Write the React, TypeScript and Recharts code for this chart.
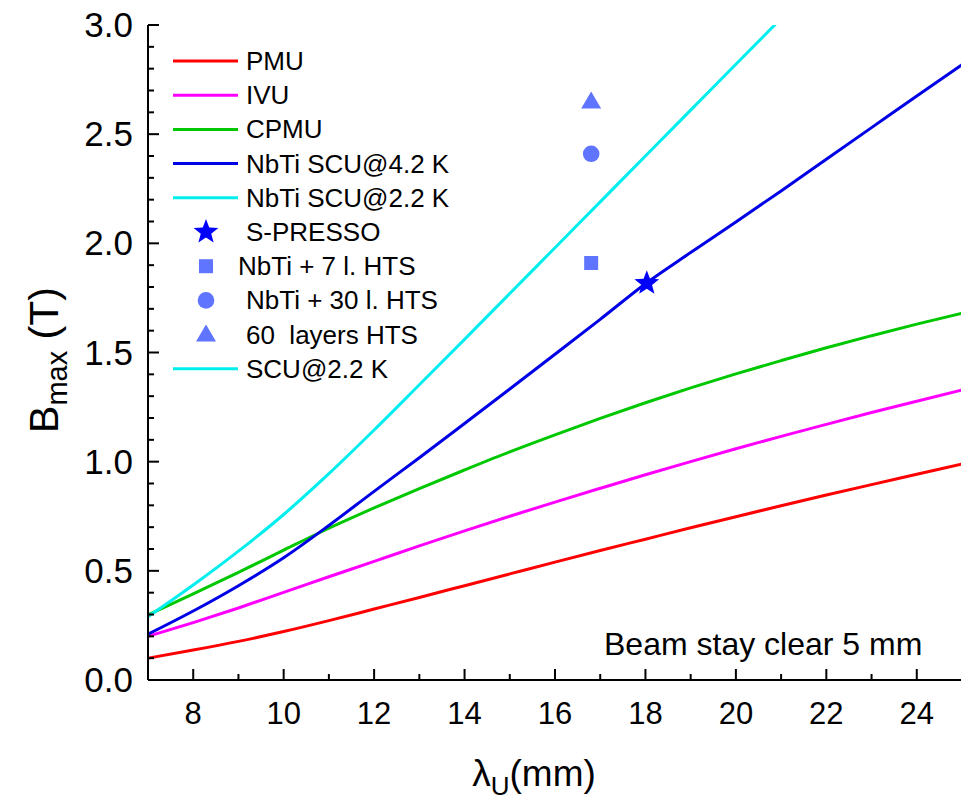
import React from 'react';
import { ComposedChart, Line, Scatter, XAxis, YAxis, Legend, Label } from 'recharts';

const FONT = '"Liberation Sans", Arial, Helvetica, sans-serif';

// undulator period (mm)
const lambda = [7, 8, 9, 10, 11, 12, 13, 14, 15, 16, 17, 18, 19, 20, 21, 22, 23, 24, 25];

// peak field (T) for each technology
const pmu = [0.100, 0.137, 0.177, 0.222, 0.272, 0.325, 0.378, 0.432, 0.486, 0.540, 0.593, 0.645, 0.697, 0.748, 0.798, 0.847, 0.895, 0.942, 0.989];
const ivu = [0.200, 0.263, 0.330, 0.401, 0.473, 0.543, 0.614, 0.683, 0.750, 0.815, 0.878, 0.940, 1.000, 1.059, 1.116, 1.171, 1.225, 1.277, 1.328];
const cpmu = [0.298, 0.394, 0.493, 0.595, 0.695, 0.788, 0.877, 0.962, 1.045, 1.123, 1.198, 1.270, 1.338, 1.402, 1.463, 1.522, 1.577, 1.630, 1.680];
const scu42 = [0.210, 0.316, 0.432, 0.560, 0.708, 0.864, 1.018, 1.175, 1.333, 1.492, 1.652, 1.815, 1.958, 2.098, 2.240, 2.385, 2.530, 2.675, 2.818];
const scu22 = [0.290, 0.435, 0.590, 0.758, 0.945, 1.145, 1.352, 1.560, 1.770, 1.980, 2.190, 2.400, 2.610, 2.820, 3.030];

// single measured / projected points
const sPresso = [{ x: 18.03, y: 1.817 }];
const hts7 = [{ x: 16.8, y: 1.91 }];
const hts30 = [{ x: 16.8, y: 2.41 }];
const hts60 = [{ x: 16.8, y: 2.65 }];

const xTicks = [8, 9, 10, 11, 12, 13, 14, 15, 16, 17, 18, 19, 20, 21, 22, 23, 24];
const yTicks = Array.from({ length: 31 }, (_, i) => i / 10);

const RED = '#ff0000';
const MAGENTA = '#ff00ff';
const GREEN = '#00c800';
const BLUE = '#0000e6';
const CYAN = '#00eeee';
const STAR = '#0000ff';
const LIGHT = '#5f74ff';

const toPoints = (ys: number[]) => ys.map((y, i) => ({ x: lambda[i], y }));

const legendItems = [
  { name: 'PMU', kind: 'line', color: RED },
  { name: 'IVU', kind: 'line', color: MAGENTA },
  { name: 'CPMU', kind: 'line', color: GREEN },
  { name: 'NbTi SCU@4.2 K', kind: 'line', color: BLUE },
  { name: 'NbTi SCU@2.2 K', kind: 'line', color: CYAN },
  { name: 'S-PRESSO', kind: 'star', color: STAR },
  { name: 'NbTi + 7 l. HTS', kind: 'square', color: LIGHT },
  { name: 'NbTi + 30 l. HTS', kind: 'circle', color: LIGHT },
  { name: '60  layers HTS', kind: 'triangle', color: LIGHT },
  { name: 'SCU@2.2 K', kind: 'line', color: CYAN },
];

const starPoints = (cx: number, cy: number, R: number, r: number) => {
  const pts: string[] = [];
  for (let i = 0; i < 10; i++) {
    const a = -Math.PI / 2 + (i * Math.PI) / 5;
    const rad = i % 2 === 0 ? R : r;
    pts.push(`${cx + rad * Math.cos(a)},${cy + rad * Math.sin(a)}`);
  }
  return pts.join(' ');
};

const Marker = ({ kind, cx, cy, color }: any) => {
  if (kind === 'star') return <polygon points={starPoints(cx, cy, 13, 5.5)} fill={color} />;
  if (kind === 'square') return <rect x={cx - 7} y={cy - 7} width={14} height={14} fill={color} />;
  if (kind === 'circle') return <circle cx={cx} cy={cy} r={8.3} fill={color} />;
  if (kind === 'triangle')
    return <polygon points={`${cx - 10},${cy + 7} ${cx + 10},${cy + 7} ${cx},${cy - 10}`} fill={color} />;
  return null;
};

const renderLegend = () => (
  <svg width={330} height={350}>
    {legendItems.map((it, i) => {
      const cy = 18 + i * 34.2;
      const tx = it.name.startsWith('NbTi + 7') ? 80 : 88;
      return (
        <g key={it.name}>
          {it.kind === 'line' ? (
            <line x1={15} x2={80} y1={cy} y2={cy} stroke={it.color} strokeWidth={3} />
          ) : (
            <Marker kind={it.kind} cx={48} cy={cy} color={it.color} />
          )}
          <text x={tx} y={cy + 9} fontSize={26} fontFamily={FONT} fill="#000" style={{ whiteSpace: 'pre' }}>
            {it.name}
          </text>
        </g>
      );
    })}
  </svg>
);

// ticks point into the plot; only the major ones get a label
const BottomTick = ({ x, y, payload }: any) => {
  const v = payload.value;
  const major = v % 2 === 0;
  return (
    <g>
      <path d={`M${x},${y}V${y - (major ? 11 : 6)}`} stroke="#000" strokeWidth={2} fill="none" />
      {major && (
        <text x={x} y={y + 44} textAnchor="middle" fontSize={31} fontFamily={FONT} fill="#000">
          {v}
        </text>
      )}
    </g>
  );
};

const TopTick = ({ x, y, payload }: any) => {
  const major = payload.value % 2 === 0;
  return <path d={`M${x},${y}V${y + (major ? 11 : 6)}`} stroke="#000" strokeWidth={2} fill="none" />;
};

const LeftTick = ({ x, y, payload }: any) => {
  const v = payload.value;
  const major = Math.round(v * 10) % 5 === 0;
  return (
    <g>
      <path d={`M${x},${y}H${x + (major ? 11 : 6)}`} stroke="#000" strokeWidth={2} fill="none" />
      {major && (
        <text x={x - 15} y={y + 12} textAnchor="end" fontSize={35} fontFamily={FONT} fill="#000">
          {v.toFixed(1)}
        </text>
      )}
    </g>
  );
};

const RightTick = ({ x, y, payload }: any) => {
  const major = Math.round(payload.value * 10) % 5 === 0;
  return <path d={`M${x},${y}H${x - (major ? 11 : 6)}`} stroke="#000" strokeWidth={2} fill="none" />;
};

const XTitle = () => (
  <text x={526} y={778} textAnchor="middle" fontSize={37} fontFamily={FONT} fill="#000">
    λ<tspan fontSize={26} dy={9}>U</tspan>
    <tspan dy={-9}>(mm)</tspan>
  </text>
);

const YTitle = () => (
  <text x={50} y={352} transform="rotate(-90, 50, 352)" textAnchor="middle" fontSize={41} fontFamily={FONT} fill="#000">
    B<tspan fontSize={29} dy={9}>max</tspan>
    <tspan dy={-9}> (T)</tspan>
  </text>
);

const lineSeries = [
  { key: 'pmu', ys: pmu, color: RED },
  { key: 'ivu', ys: ivu, color: MAGENTA },
  { key: 'cpmu', ys: cpmu, color: GREEN },
  { key: 'scu42', ys: scu42, color: BLUE },
  { key: 'scu22', ys: scu22, color: CYAN },
];

const pointSeries = [
  { key: 'spresso', data: sPresso, kind: 'star', color: STAR },
  { key: 'hts7', data: hts7, kind: 'square', color: LIGHT },
  { key: 'hts30', data: hts30, kind: 'circle', color: LIGHT },
  { key: 'hts60', data: hts60, kind: 'triangle', color: LIGHT },
];

export default function App() {
  return (
    <div style={{ position: 'relative', width: 961, height: 797, fontFamily: FONT }}>
      <ComposedChart width={961} height={797} margin={{ top: 17, right: 7, left: 0, bottom: 0 }}>
        <XAxis
          xAxisId="x"
          dataKey="x"
          type="number"
          domain={[7, 25]}
          ticks={xTicks}
          interval={0}
          allowDataOverflow
          height={125}
          tickSize={0}
          tickMargin={0}
          tickLine={false}
          tick={<BottomTick />}
          axisLine={{ stroke: '#000', strokeWidth: 2 }}
        >
          <Label content={<XTitle />} />
        </XAxis>
        <XAxis
          xAxisId="xt"
          orientation="top"
          type="number"
          domain={[7, 25]}
          ticks={xTicks}
          interval={0}
          allowDataOverflow
          height={0}
          tickSize={0}
          tickMargin={0}
          tickLine={false}
          tick={<TopTick />}
          axisLine={{ stroke: '#000', strokeWidth: 2 }}
        />
        <YAxis
          yAxisId="y"
          dataKey="y"
          type="number"
          domain={[0, 3]}
          ticks={yTicks}
          interval={0}
          allowDataOverflow
          width={140}
          tickSize={0}
          tickMargin={0}
          tickLine={false}
          tick={<LeftTick />}
          axisLine={{ stroke: '#000', strokeWidth: 2 }}
        >
          <Label content={<YTitle />} />
        </YAxis>
        <YAxis
          yAxisId="yr"
          orientation="right"
          type="number"
          domain={[0, 3]}
          ticks={yTicks}
          interval={0}
          allowDataOverflow
          width={0}
          tickSize={0}
          tickMargin={0}
          tickLine={false}
          tick={<RightTick />}
          axisLine={{ stroke: '#000', strokeWidth: 2 }}
        />
        {lineSeries.map((s) => (
          <Line
            key={s.key}
            xAxisId="x"
            yAxisId="y"
            data={toPoints(s.ys)}
            dataKey="y"
            type="monotone"
            stroke={s.color}
            strokeWidth={3}
            dot={false}
            activeDot={false}
            isAnimationActive={false}
          />
        ))}
        {pointSeries.map((s) => (
          <Scatter
            key={s.key}
            xAxisId="x"
            yAxisId="y"
            data={s.data}
            dataKey="y"
            isAnimationActive={false}
            shape={(p: any) => <Marker kind={s.kind} cx={p.cx} cy={p.cy} color={s.color} />}
          />
        ))}
        <Legend
          layout="horizontal"
          align="center"
          verticalAlign="middle"
          content={renderLegend}
          wrapperStyle={{ position: 'absolute', left: 150, top: 35, width: 330, height: 350 }}
        />
      </ComposedChart>
      <div
        style={{
          position: 'absolute',
          left: 596,
          top: 618,
          fontSize: 32,
          lineHeight: '36px',
          whiteSpace: 'pre',
          color: '#000',
        }}
      >
        Beam stay clear 5 mm
      </div>
    </div>
  );
}
